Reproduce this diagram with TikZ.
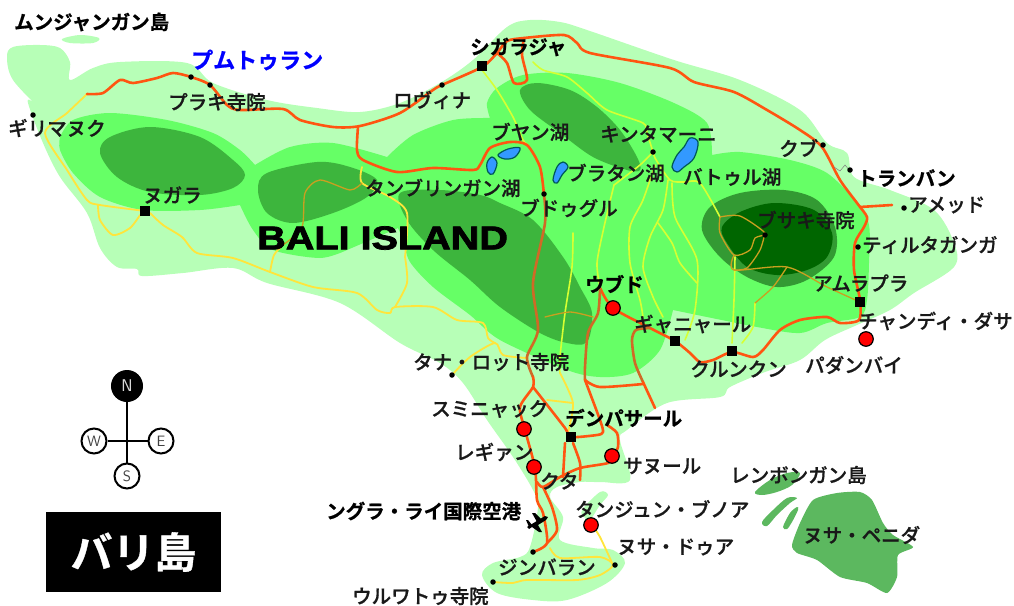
\documentclass[tikz,border=0pt]{standalone}
\usepackage{graphicx}
\usepackage{fontspec}
\newfontfamily\cjk{Noto Sans CJK JP}[UprightFont=* Medium,FakeBold=0.8]
\newfontfamily\cjkb{Noto Sans CJK JP}[UprightFont=* Bold,FakeBold=0.9]
\newfontfamily\latinb{Liberation Sans}[UprightFont=* Bold,FakeBold=2.2]
\newcommand\blob[2]{\fill[#1] plot[smooth cycle,tension=.55] coordinates {#2};}
\newcommand\rd[2]{\draw[#1] plot[smooth,tension=.45] coordinates {#2};}
\definecolor{lightg}{HTML}{B7FFB7}
\definecolor{midg}{HTML}{66FF66}
\definecolor{darkg}{HTML}{3DB53D}
\definecolor{pusk}{HTML}{339A33}
\definecolor{deepg}{HTML}{006600}
\definecolor{nusa}{HTML}{5CB85F}
\definecolor{lakeb}{HTML}{3399FF}
\definecolor{redr}{HTML}{FF5511}
\definecolor{brownr}{HTML}{CF6A26}
\definecolor{yelr}{HTML}{FFE53B}
\definecolor{limer}{HTML}{D6FF33}
\definecolor{dkyr}{HTML}{C9A020}
\tikzset{
 redroad/.style={draw=redr,line width=2.6pt,line cap=round,line join=round},
 brownroad/.style={draw=brownr,line width=2.6pt,line cap=round,line join=round},
 yroad/.style={draw=yelr,line width=1.8pt,line cap=round,line join=round},
 limeroad/.style={draw=limer,line width=1.6pt,line cap=round,line join=round},
 dkroad/.style={draw=dkyr,line width=1.3pt,line cap=round,line join=round},
 lake/.style={fill=lakeb,draw=black!30!teal,line width=1.2pt},
 town/.style={rectangle,fill=black,minimum size=10.5pt,inner sep=0pt},
 resort/.style={circle,fill=red,draw=black,line width=1.2pt,minimum size=14.5pt,inner sep=0pt},
 spot/.style={circle,fill=black,minimum size=5.5pt,inner sep=0pt},
 lab/.style={anchor=west,inner sep=0pt,text=black!90,font=\fontsize{19.5}{20}\cjk},
 labb/.style={anchor=west,inner sep=0pt,text=black,font=\fontsize{19.5}{20}\cjkb},
 cmp/.style={circle,fill=white,draw=black,line width=2pt,minimum size=25pt,inner sep=0pt,text=black!75,font=\fontsize{15}{15}\sffamily},
}
\begin{document}
\begin{tikzpicture}[x=1pt,y=-1pt]
\useasboundingbox (0,0) rectangle (1014,605);
% land
\blob{lightg}{(62,39)(80,35)(99,38)(93,43)(70,43)}
\blob{lightg}{(7,57)(13,47)(40,45)(60,48)(70,62)(70,80)(93,68)(120,62)(187,63)(213,83)(267,100)(317,108)(360,112)(400,103)(440,83)(473,60)(507,27)(530,20)(560,22)(587,30)(674,60)(740,80)(800,110)(827,143)(847,153)(854,177)(890,190)(934,210)(954,243)(954,267)(914,293)(890,310)(857,325)(825,340)(800,360)(765,372)(730,387)(720,397)(667,403)(627,430)(620,440)(630,480)(600,482)(580,482)(557,487)(550,497)(563,517)(560,540)(593,548)(613,550)(625,563)(607,583)(567,600)(533,600)(497,593)(482,575)(493,563)(520,557)(530,547)(538,507)(533,490)(513,457)(487,420)(463,383)(440,363)(400,343)(340,303)(267,283)(233,268)(183,273)(142,276)(137,269)(117,267)(100,248)(87,213)(60,177)(43,143)(28,103)(33,102)(43,112)(13,80)}
\blob{lightg}{(582,510)(600,492)(608,495)(600,505)(590,520)(585,518)}
% middle green
\fill[midg] plot[smooth,tension=.5] coordinates {(60,137)(73,120)(110,113)(167,120)(213,133)(240,150)(255,165)}
 -- plot[smooth,tension=.5] coordinates {(255,165)(290,147)(333,143)(387,157)}
 -- plot[smooth,tension=.5] coordinates {(387,157)(413,135)(453,120)(490,118)}
 -- plot[smooth,tension=.5] coordinates {(490,118)(487,103)(497,88)(523,75)(567,73)(620,83)(674,103)(707,123)(712,155)}
 -- plot[smooth,tension=.5] coordinates {(712,155)(740,152)(790,160)(827,173)(857,203)(869,225)(869,263)(867,300)(860,317)(827,323)(800,333)(757,327)(673,310)}
 -- plot[smooth,tension=.5] coordinates {(673,310)(660,350)(633,373)(600,377)(567,370)(500,340)(470,315)(433,287)(410,262)(403,240)(398,228)}
 -- plot[smooth,tension=.5] coordinates {(398,228)(375,238)(347,250)}
 -- plot[smooth,tension=.5] coordinates {(347,250)(320,258)(273,250)(253,230)(240,205)}
 -- plot[smooth,tension=.5] coordinates {(240,205)(200,210)(143,210)(100,197)(73,173)(60,150)(60,137)} -- cycle;
% dark forest
\blob{darkg}{(100,153)(110,137)(150,127)(200,137)(233,160)(245,175)(233,188)(200,195)(150,192)(117,177)}
\blob{darkg}{(258,190)(267,173)(317,162)(350,167)(377,180)(367,197)(333,213)(293,223)(267,213)}
\blob{darkg}{(400,193)(440,190)(480,195)(500,203)(533,220)(563,257)(580,287)(592,313)(587,342)(567,343)(540,333)(500,307)(470,280)(433,250)(407,220)}
\blob{darkg}{(520,90)(537,83)(570,90)(597,107)(620,130)(637,157)(640,170)(627,170)(593,157)(560,133)(530,110)}
\blob{pusk}{(702,230)(710,207)(740,193)(784,190)(817,200)(835,227)(834,257)(807,280)(777,287)(747,277)(720,257)}
\blob{deepg}{(722,227)(740,212)(774,203)(814,210)(832,233)(827,257)(807,270)(777,275)(747,267)(727,243)}
% offshore islands
\blob{nusa}{(755,492)(770,480)(787,473)(800,473)(792,485)(777,492)(762,495)}
\blob{nusa}{(762,522)(773,510)(787,498)(797,498)(790,503)(777,515)(767,526)}
\blob{nusa}{(783,527)(790,513)(797,507)(798,510)(792,522)(787,529)}
\fill[nusa] plot[smooth cycle,tension=.4] coordinates {(792,545)(800,523)(813,500)(837,493)(860,492)(872,500)(883,523)(893,535)(913,547)(898,555)(897,577)(887,593)(867,583)(840,577)(817,560)(797,553)};
% lakes
\draw[lake] plot[smooth cycle,tension=.6] coordinates {(672,167)(677,155)(684,147)(690,138)(698,142)(694,158)(684,167)(677,172)};
\draw[lake] plot[smooth cycle,tension=.6] coordinates {(553,180)(557,167)(563,162)(568,167)(562,175)(557,183)};
\draw[lake] plot[smooth cycle,tension=.6] coordinates {(498,155)(508,149)(520,148)(515,157)(505,159)};
\draw[lake] plot[smooth cycle,tension=.6] coordinates {(487,163)(492,157)(497,163)(493,174)(488,172)};
% lime mountain roads
\rd{limeroad}{(482,70)(497,90)(513,117)(523,140)(528,145)}
\rd{limeroad}{(533,62)(543,70)(567,77)(587,93)(607,110)(643,123)(647,133)(653,152)}
\rd{limeroad}{(654,152)(655,158)(670,180)(684,182)(700,183)(720,217)}
\rd{limeroad}{(655,165)(643,200)(630,227)(630,263)(640,300)(643,317)}
\rd{limeroad}{(668,180)(663,210)(650,237)(643,267)(653,297)(663,317)}
\rd{limeroad}{(672,183)(675,217)(697,260)(695,310)(685,340)}
\rd{limeroad}{(658,223)(672,243)(680,263)(697,283)}
\rd{limeroad}{(614,185)(604,227)(597,263)(600,287)}
\rd{limeroad}{(573,233)(572,267)(565,313)(560,357)(560,373)}
\rd{limeroad}{(614,185)(640,165)(653,152)}
\rd{limeroad}{(735,257)(734,300)(732,343)}
\rd{limeroad}{(755,303)(753,327)(742,343)}
% yellow coastal roads
\rd{yroad}{(87,94)(67,113)(45,133)(67,170)(87,200)(100,205)(145,211)}
\rd{yroad}{(98,205)(100,220)(113,235)(130,228)(140,215)}
\rd{yroad}{(150,213)(163,225)(182,237)(197,253)(233,258)(270,272)(313,287)(357,293)(377,310)(390,313)(395,307)(433,307)(457,320)(483,323)(488,338)(495,343)}
\rd{yroad}{(270,272)(274,255)(283,245)}
\rd{yroad}{(405,257)(407,283)(395,307)}
\rd{yroad}{(452,375)(470,357)(495,343)(503,355)(527,358)}
\rd{yroad}{(560,373)(573,403)(568,432)}
\rd{yroad}{(547,400)(573,403)}
\rd{yroad}{(592,525)(600,537)(613,565)}
\rd{yroad}{(550,548)(560,558)(600,557)(613,565)(600,575)(577,580)(527,580)(513,583)(493,582)}
\rd{yroad}{(362,167)(362,183)(390,197)(407,213)(405,257)}
% dark yellow roads over forest
\rd{dkroad}{(283,245)(302,227)(305,193)(320,180)(350,190)(362,183)}
\rd{dkroad}{(545,317)(570,312)(593,317)}
\rd{dkroad}{(720,217)(740,216)(765,233)(755,238)(750,250)(734,255)(720,233)(720,217)}
\rd{dkroad}{(765,233)(760,250)(747,268)(734,270)}
\rd{dkroad}{(734,255)(734,270)(787,267)(827,287)(860,302)}
\rd{dkroad}{(787,267)(773,287)(755,303)}
% main roads
\rd{redroad}{(87,94)(103,93)(120,80)(133,83)(157,78)(173,73)(191,77)(210,85)(227,105)(240,110)(283,109)(300,120)(333,127)(360,126)(400,113)(433,90)(442,85)(482,67)(497,53)(507,41)(524,38)(564,35)(577,43)(590,53)(670,68)(694,82)(734,92)(767,110)(800,130)(822,147)(840,180)(857,203)(867,217)(864,227)(855,243)(854,270)(860,300)(859,320)(840,323)(827,317)(800,320)(780,330)(763,350)(753,357)(732,352)(713,360)(700,362)(690,353)(675,341)(650,328)(613,308)(600,288)}
\rd{redroad}{(497,53)(507,63)(514,83)(527,80)(522,55)(524,38)}
\rd{redroad}{(860,207)(892,205)}
\rd{redroad}{(358,127)(357,150)(363,160)(397,172)(433,168)(473,170)(480,165)(490,148)(510,142)(527,145)(540,167)(544,195)}
\rd{brownroad}{(544,195)(545,223)(533,283)(538,330)(527,357)(533,377)}
\rd{redroad}{(533,377)(533,387)(520,407)(525,430)(535,468)(537,500)(543,513)(547,543)(533,552)}
\rd{redroad}{(533,387)(565,428)(570,437)(597,435)(603,432)(600,420)(585,380)}
\rd{brownroad}{(600,288)(598,313)(588,333)(585,367)(585,380)}
\rd{redroad}{(585,380)(600,387)(643,384)}
\rd{brownroad}{(650,328)(636,330)(632,340)(635,363)(643,382)}
\rd{redroad}{(643,382)(655,408)}
\rd{redroad}{(607,425)(617,433)(618,447)(613,456)(608,463)(580,468)(560,477)(543,487)(537,482)}
\rd{redroad}{(565,443)(563,477)}
\rd{redroad}{(573,443)(580,463)(580,480)}
\rd{redroad}{(543,487)(552,507)(557,530)(547,543)}
\draw[gray,line width=.5pt] (834,167) -- (840,171) -- (845,165) -- (850,171);
% airplane
\fill[black] (527,527) -- (545,516) -- (548,517) -- (546,520) -- (538,525) -- (542,532) -- (539,532) -- (532,527) -- (529,529) -- cycle;
\fill[black] (532,513) -- (535,513) -- (542,520) -- (537,522) -- cycle;
\fill[black] (526,520) -- (528,520) -- (532,525) -- (529,527) -- cycle;
% markers
\node[town] (mSingaraja) at (482,66) {};
\node[town] (mNegara) at (145,211) {};
\node[town] (mGianyar) at (675,341) {};
\node[town] (mKlungkung) at (732,351) {};
\node[town] (mAmlapura) at (860,302) {};
\node[town] (mDenpasar) at (571,437) {};
\node[resort] (mUbud) at (613,308) {};
\node[resort] (mCandidasa) at (866,339) {};
\node[resort] (mSeminyak) at (524,429) {};
\node[resort] (mLegian) at (534,467) {};
\node[resort] (mSanur) at (612,456) {};
\node[resort] (mBenoa) at (591,525) {};
\node[spot] (mGilimanuk) at (33,115) {};
\node[spot] (mPulakiA) at (191,77) {};
\node[spot] (mPulakiB) at (210,85) {};
\node[spot] (mLovina) at (442,85) {};
\node[spot] (mKintamani) at (653,152) {};
\node[spot] (mBedugul) at (544,194) {};
\node[spot] (mKubu) at (823,145) {};
\node[spot] (mTulamben) at (850,170) {};
\node[spot] (mAmed) at (904,208) {};
\node[spot] (mTirta) at (858,247) {};
\node[spot] (mBesakih) at (765,235) {};
\node[spot] (mTanah) at (452,375) {};
\node[spot] (mNusaDua) at (615,565) {};
\node[spot] (mJimbaran) at (533,552) {};
\node[spot] (mUluwatu) at (493,582) {};
% labels
\node[labb] (t01) at (14,22) {ムンジャンガン島};
\node[anchor=west,inner sep=0pt,text=blue,font=\fontsize{22}{22}\cjkb] (t02) at (191,60) {プムトゥラン};
\node[lab] (t03) at (168,102) {プラキ寺院};
\node[lab] (t04) at (393,100) {ロヴィナ};
\node[lab] (t05) at (8,128) {ギリマヌク};
\node[labb] (t06) at (470,47) {シガラジャ};
\node[lab] (t07) at (143,195) {ヌガラ};
\node[lab] (t08) at (491,132) {ブヤン湖};
\node[lab] (t09) at (600,134) {キンタマーニ};
\node[lab] (t10) at (567,173) {ブラタン湖};
\node[lab] (t11) at (683,177) {バトゥル湖};
\node[lab] (t12) at (779,148) {クブ};
\node[labb] (t13) at (857,178) {トランバン};
\node[lab] (t14) at (908,205) {アメッド};
\node[lab] (t15) at (365,188) {タンブリンガン湖};
\node[lab] (t16) at (520,208) {ブドゥグル};
\node[lab] (t17) at (757,220) {ブサキ寺院};
\node[lab] (t18) at (862,245) {ティルタガンガ};
\node[lab] (t19) at (813,283) {アムラプラ};
\node[lab] (t20) at (858,321) {チャンディ・ダサ};
\node[lab] (t21) at (805,365) {パダンバイ};
\node[labb] (t22) at (585,284) {ウブド};
\node[lab] (t23) at (634,324) {ギャニャール};
\node[lab] (t24) at (690,369) {クルンクン};
\node[lab] (t25) at (413,362) {タナ・ロット寺院};
\node[lab] (t26) at (431,409) {スミニャック};
\node[labb] (t27) at (565,418) {デンパサール};
\node[lab] (t28) at (455,452) {レギァン};
\node[lab] (t29) at (540,481) {クタ};
\node[lab] (t30) at (623,466) {サヌール};
\node[lab] (t31) at (575,509) {タンジュン・ブノア};
\node[labb] (t32) at (326,511) {ングラ・ライ国際空港};
\node[lab] (t33) at (617,547) {ヌサ・ドゥア};
\node[lab] (t34) at (498,567) {ジンバラン};
\node[lab] (t35) at (352,596) {ウルワトゥ寺院};
\node[lab] (t36) at (730,475) {レンボンガン島};
\node[lab] (t37) at (803,535) {ヌサ・ペニダ};
\node[anchor=west,inner sep=0pt,text=black,font=\fontsize{33}{33}\latinb] (tBali) at (257,238) {\scalebox{1.2}[1]{BALI ISLAND}};
% compass
\node[cmp,fill=black,text=white!85!black,minimum size=30pt,font=\fontsize{17}{17}\sffamily] (cN) at (127,386) {N};
\node[cmp] (cW) at (94,441) {W};
\node[cmp] (cE) at (161,441) {E};
\node[cmp] (cS) at (127,476) {S};
\draw[black,line width=1.6pt] (cN) -- (cS);
\draw[black,line width=1.6pt] (cW) -- (cE);
% title
\node[rectangle,fill=black,minimum width=175pt,minimum height=80pt,inner sep=0pt,text=white,font=\fontsize{42}{42}\cjkb] (title) at (133.5,552) {バリ島};
\end{tikzpicture}
\end{document}
